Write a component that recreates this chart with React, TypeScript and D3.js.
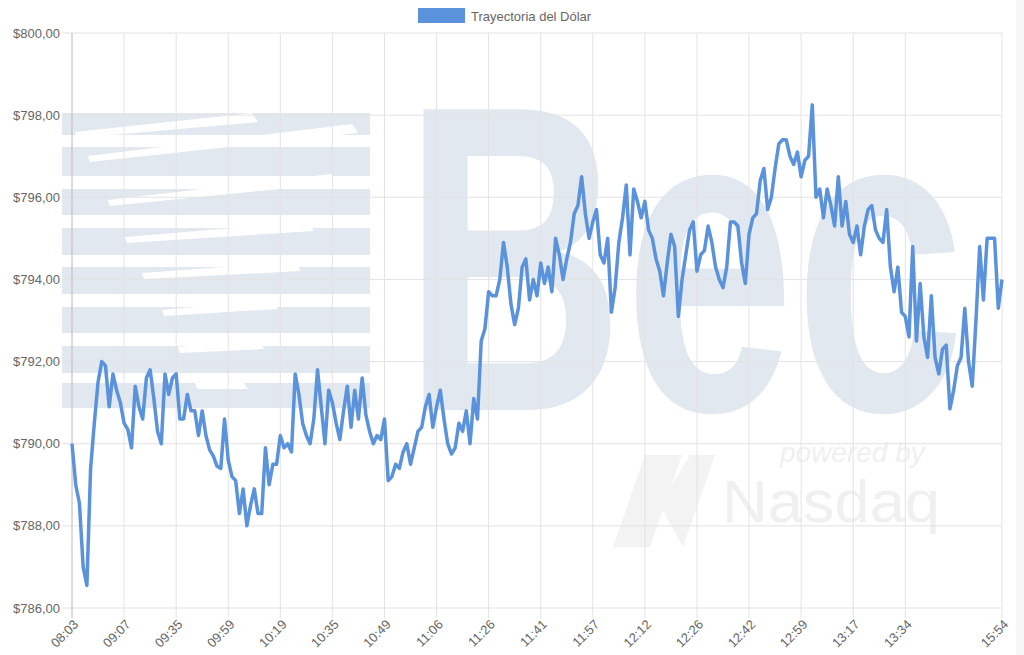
import { useRef, useEffect } from "react";
import * as d3 from "d3";

// cotización del dólar intradía (un punto por transacción mostrada)
const dollar: number[] = [
  790.0, 789.0, 788.55, 787.0, 786.55, 789.4, 790.5, 791.5, 792.0, 791.9,
  790.9, 791.7, 791.3, 791.0, 790.5, 790.35, 789.9, 791.4, 790.9, 790.6,
  791.6, 791.8, 791.1, 790.3, 790.0, 791.7, 791.2, 791.6, 791.7, 790.6,
  790.6, 791.2, 790.8, 790.8, 790.2, 790.8, 790.2, 789.85, 789.7, 789.45,
  789.4, 790.6, 789.6, 789.2, 789.1, 788.3, 788.9, 788.0, 788.5, 788.9,
  788.3, 788.3, 789.9, 789.0, 789.5, 789.5, 790.2, 789.9, 790.0, 789.8,
  791.7, 791.2, 790.5, 790.2, 790.0, 790.6, 791.8, 790.9, 790.0, 791.3,
  791.0, 790.5, 790.1, 790.8, 791.4, 790.4, 791.3, 790.6, 791.6, 790.7,
  790.3, 790.0, 790.2, 790.1, 790.6, 789.1, 789.2, 789.5, 789.4, 789.8,
  790.0, 789.5, 789.9, 790.3, 790.4, 790.9, 791.2, 790.4, 790.9, 791.3,
  790.6, 790.0, 789.75, 789.9, 790.5, 790.3, 790.8, 790.0, 791.1, 790.6,
  792.5, 792.8, 793.7, 793.6, 793.6, 794.0, 794.9, 794.3, 793.4, 792.9,
  793.3, 794.3, 794.5, 793.5, 794.0, 793.6, 794.4, 793.9, 794.3, 793.7,
  795.0, 794.6, 794.0, 794.5, 794.9, 795.6, 795.8, 796.5, 795.6, 795.0,
  795.4, 795.7, 794.6, 794.4, 795.0, 793.2, 793.8, 794.9, 795.5, 796.3,
  794.6, 796.2, 795.9, 795.5, 795.9, 795.2, 795.0, 794.5, 794.2, 793.6,
  794.4, 795.1, 794.8, 793.1, 794.0, 794.6, 795.2, 795.4, 794.2, 794.6,
  794.7, 795.3, 794.9, 794.3, 794.0, 793.8, 794.3, 795.4, 795.4, 795.3,
  794.4, 793.9, 795.1, 795.5, 795.6, 796.4, 796.7, 795.7, 796.0, 796.7,
  797.3, 797.4, 797.4, 797.0, 796.8, 797.1, 796.5, 796.9, 797.0, 798.25,
  796.0, 796.2, 795.5, 796.2, 795.8, 795.3, 796.5, 795.3, 795.9, 795.1,
  794.9, 795.3, 794.6, 795.3, 795.7, 795.8, 795.2, 795.0, 794.9, 795.7,
  794.3, 793.7, 794.3, 793.2, 793.1, 792.6, 794.8, 792.5, 793.9, 792.6,
  792.1, 793.6, 792.1, 791.7, 792.3, 792.4, 790.85, 791.3, 791.9, 792.1,
  793.3, 792.0, 791.4, 793.0, 794.8, 793.5, 795.0, 795.0, 795.0, 793.3,
  794.0,
];

// etiquetas visibles del eje X (una cada 14 puntos, más la última)
const timeLabels = [
  "08:03", "09:07", "09:35", "09:59", "10:19", "10:35", "10:49", "11:06", "11:26",
  "11:41", "11:57", "12:12", "12:26", "12:42", "12:59", "13:17", "13:34", "15:54",
];
const labelStep = 14;

const yTicks = [786, 788, 790, 792, 794, 796, 798, 800];

const seriesName = "Trayectoria del Dólar";
const lineColor = "#5b92dc";

const fmtPeso = (v: number) => "$" + v.toFixed(2).replace(".", ",");

export default function App() {
  const svgRef = useRef<SVGSVGElement>(null);

  useEffect(() => {
    if (!svgRef.current) return;
    const width = 1024;
    const height = 655;
    const margin = { top: 33, right: 22, bottom: 47, left: 72 };
    const chartW = width - margin.left - margin.right;
    const chartH = height - margin.top - margin.bottom;
    const font = "'Helvetica Neue', Helvetica, Arial, 'Liberation Sans', sans-serif";

    const svg = d3.select(svgRef.current);
    svg.selectAll("*").remove();
    svg.attr("width", width).attr("height", height);

    // watermark (fondo)
    const wm = svg.append("g");
    const bars = [
      [113, 135], [147, 176], [189, 215], [228, 255],
      [267, 294], [307, 333], [346, 373], [383, 408],
    ];
    bars.forEach(([y0, y1]) => {
      wm.append("rect")
        .attr("x", 62).attr("y", y0)
        .attr("width", 308).attr("height", y1 - y0)
        .attr("fill", "#e2e8f0");
    });
    // cortes diagonales blancos
    const cuts = [
      [75, 132, 252, 113], [88, 156, 352, 124], [108, 200, 332, 174],
      [125, 237, 308, 222], [142, 273, 295, 262], [162, 310, 272, 300],
      [178, 347, 258, 340], [195, 383, 242, 380],
    ];
    cuts.forEach(([x0, y0, x1, y1]) => {
      wm.append("polygon")
        .attr("points", `${x0},${y0} ${x1},${y1} ${x1 + 6},${y1 + 9} ${x0 + 2},${y0 + 6}`)
        .attr("fill", "#ffffff");
    });
    wm.append("text")
      .attr("x", 403).attr("y", 410)
      .attr("textLength", 562)
      .attr("lengthAdjust", "spacingAndGlyphs")
      .style("font-family", "Arial, 'Liberation Sans', sans-serif")
      .style("font-weight", "bold")
      .style("font-size", "437px")
      .style("fill", "#e2e8f0")
      .text("Bec");
    wm.append("text")
      .attr("x", 780).attr("y", 462)
      .style("font-family", font)
      .style("font-style", "italic")
      .style("font-size", "28px")
      .style("fill", "#f0f0f0")
      .text("powered by");
    wm.append("text")
      .attr("x", 722).attr("y", 522)
      .attr("textLength", 218)
      .attr("lengthAdjust", "spacingAndGlyphs")
      .style("font-family", font)
      .style("font-size", "60px")
      .style("fill", "#f0f0f0")
      .text("Nasdaq");
    wm.append("polygon")
      .attr("points", "613,547 645,455 682,455 650,547")
      .attr("fill", "#f3f3f3");
    wm.append("polygon")
      .attr("points", "660,505 690,455 715,455 683,547")
      .attr("fill", "#f3f3f3");
    wm.append("rect")
      .attr("x", 1016).attr("y", 0).attr("width", 8).attr("height", height)
      .attr("fill", "#f6f6f6");

    const g = svg.append("g").attr("transform", `translate(${margin.left},${margin.top})`);

    const x = d3.scaleLinear().domain([0, dollar.length - 1]).range([0, chartW]);
    const y = d3.scaleLinear().domain([786, 800]).range([chartH, 0]);

    const tickIdx = timeLabels.map((_, i) =>
      i === timeLabels.length - 1 ? dollar.length - 1 : i * labelStep
    );

    // grid horizontal
    g.append("g")
      .selectAll("line")
      .data(yTicks)
      .join("line")
      .attr("x1", -10)
      .attr("x2", chartW)
      .attr("y1", (d) => y(d))
      .attr("y2", (d) => y(d))
      .attr("stroke", "#e3e3e3")
      .attr("stroke-width", 1);

    // grid vertical
    g.append("g")
      .selectAll("line")
      .data(tickIdx)
      .join("line")
      .attr("x1", (d) => x(d))
      .attr("x2", (d) => x(d))
      .attr("y1", 0)
      .attr("y2", chartH + 10)
      .attr("stroke", (d) => (d === 0 ? "#b8b8b8" : "#e3e3e3"))
      .attr("stroke-width", 1);

    // eje Y
    g.append("g")
      .selectAll("text")
      .data(yTicks)
      .join("text")
      .attr("x", -12)
      .attr("y", (d) => y(d))
      .attr("dy", "0.35em")
      .attr("text-anchor", "end")
      .style("font-family", font)
      .style("font-size", "13px")
      .style("fill", "#666")
      .text((d) => fmtPeso(d));

    // eje X
    g.append("g")
      .selectAll("text")
      .data(timeLabels)
      .join("text")
      .attr("transform", (_, i) => `translate(${x(tickIdx[i]) + 4},${chartH + 14}) rotate(-45)`)
      .attr("text-anchor", "end")
      .attr("dy", "0.35em")
      .style("font-family", font)
      .style("font-size", "13px")
      .style("fill", "#666")
      .text((d) => d);

    // línea
    const line = d3
      .line<number>()
      .x((_, i) => x(i))
      .y((d) => y(d))
      .curve(d3.curveLinear);

    g.append("path")
      .datum(dollar)
      .attr("d", line)
      .attr("fill", "none")
      .attr("stroke", lineColor)
      .attr("stroke-width", 3.5)
      .attr("stroke-linejoin", "round");

    // leyenda
    const legend = svg.append("g").attr("transform", "translate(418,8)");
    legend.append("rect").attr("width", 47).attr("height", 15).attr("fill", lineColor);
    legend.append("text")
      .attr("x", 53)
      .attr("y", 8)
      .attr("dy", "0.35em")
      .style("font-family", font)
      .style("font-size", "13px")
      .style("fill", "#666")
      .text(seriesName);
  }, []);

  return (
    <div style={{ position: "absolute", left: 0, top: 0, width: 1024, height: 655, background: "#fff" }}>
      <svg ref={svgRef} style={{ display: "block" }} />
    </div>
  );
}
